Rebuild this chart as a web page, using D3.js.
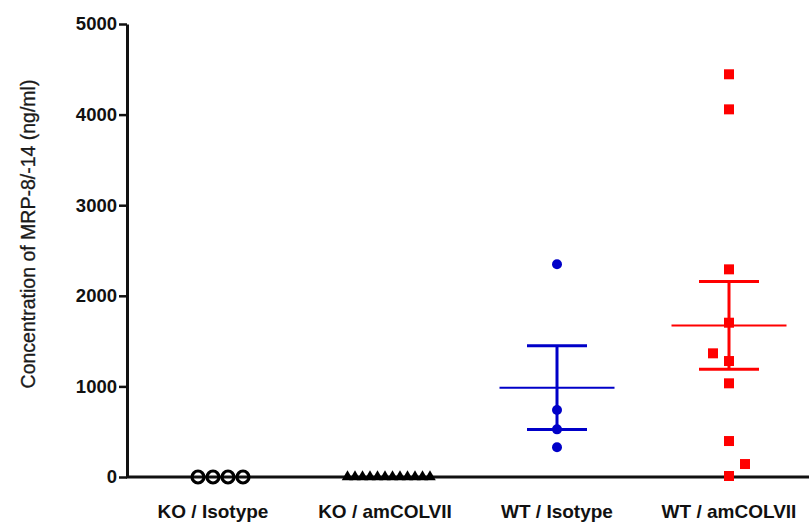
<!DOCTYPE html>
<html>
<head>
<meta charset="utf-8">
<script src="https://cdn.jsdelivr.net/npm/d3@7"></script>
<style>
  body { margin: 0; background: #fff; }
  text { font-family: Arial, "Liberation Sans", sans-serif; }
</style>
</head>
<body>
<div id="chart"></div>
<script>
const categories = ['KO / Isotype', 'KO / amCOLVII', 'WT / Isotype', 'WT / amCOLVII'];
const koIsotype = [0, 0, 0, 0];
const koAmcol = [0, 0, 0, 0, 0, 0, 0, 0, 0, 0, 0, 0];
const wtIsotype = [2348, 740, 526, 328];
const wtAmcol = [4445, 4058, 2292, 1703, 1365, 1280, 1034, 397, 143, 11];
const yTicks = [0, 1000, 2000, 3000, 4000, 5000];
const yLabel = 'Concentration of MRP-8/-14 (ng/ml)';

const width = 809, height = 524;

const series = [
  { values: koIsotype, shape: 'open', color: '#000', step: 15, errs: false },
  { values: koAmcol, shape: 'triangle', color: '#000', step: 7.5, errs: false },
  { values: wtIsotype, shape: 'circle', color: '#0000c8', step: 15, errs: true },
  { values: wtAmcol, shape: 'square', color: '#ff0000', step: 16, errs: true },
];

const svg = d3.select('#chart').append('svg')
  .attr('width', width)
  .attr('height', height);

const x = d3.scaleBand()
  .domain(categories)
  .range([127, 815]);

const y = d3.scaleLinear()
  .domain([0, 5000])
  .range([477, 24]);

// y axis
const yAxis = svg.append('g')
  .attr('transform', 'translate(127,0)')
  .call(d3.axisLeft(y)
    .tickValues(yTicks)
    .tickFormat(d3.format('d'))
    .tickSize(8).tickPadding(2).tickSizeOuter(0));
yAxis.select('.domain').attr('stroke-width', 3).attr('stroke', '#111');
yAxis.selectAll('.tick line').attr('stroke-width', 2.5).attr('stroke', '#111');
yAxis.selectAll('.tick text')
  .attr('font-size', 18.5)
  .attr('font-weight', 'bold')
  .attr('fill', '#111')
  .attr('font-family', 'Arial, "Liberation Sans", sans-serif');

// x axis line
svg.append('line')
  .attr('x1', 126).attr('x2', width)
  .attr('y1', y(0)).attr('y2', y(0))
  .attr('stroke', '#111')
  .attr('stroke-width', 3);

svg.append('g')
  .selectAll('text')
  .data(categories)
  .join('text')
  .attr('x', (d) => x(d) + x.bandwidth() / 2)
  .attr('y', 518)
  .attr('text-anchor', 'middle')
  .attr('font-size', 19)
  .attr('font-weight', 'bold')
  .attr('fill', '#111')
  .text((d) => d);

svg.append('text')
  .attr('transform', 'translate(35,234) rotate(-90)')
  .attr('text-anchor', 'middle')
  .attr('font-size', 19.5)
  .attr('fill', '#1a1a1a')
  .attr('stroke', '#1a1a1a')
  .attr('stroke-width', 0.3)
  .text(yLabel);

// simple beeswarm: ascending values, collisions alternate right/left
function swarm(values, step) {
  const placed = [];
  let flip = 0;
  const sorted = values.slice().sort((a, b) => a - b);
  sorted.forEach((v) => {
    const py = y(v);
    const hits = (dx) => placed.some((p) => Math.hypot(p.dx - dx, p.y - py) < step * 0.9);
    let dx = 0;
    if (hits(0)) {
      const side = flip % 2 === 0 ? 1 : -1;
      flip += 1;
      for (let k = 1; k < 50; k++) {
        if (!hits(side * k * step)) { dx = side * k * step; break; }
        if (!hits(-side * k * step)) { dx = -side * k * step; break; }
      }
    }
    placed.push({ v, y: py, dx });
  });
  return placed;
}

series.forEach((s, i) => {
  const cx = x(categories[i]) + x.bandwidth() / 2;
  const g = svg.append('g');

  if (s.errs) {
    const mean = d3.mean(s.values);
    const sem = d3.deviation(s.values) / Math.sqrt(s.values.length);
    g.append('line')
      .attr('x1', cx).attr('x2', cx)
      .attr('y1', y(mean + sem)).attr('y2', y(mean - sem))
      .attr('stroke', s.color).attr('stroke-width', 3);
    [mean + sem, mean - sem].forEach((v) => {
      g.append('line')
        .attr('x1', cx - 30).attr('x2', cx + 30)
        .attr('y1', y(v)).attr('y2', y(v))
        .attr('stroke', s.color).attr('stroke-width', 3);
    });
    g.append('line')
      .attr('x1', cx - 57.5).attr('x2', cx + 57.5)
      .attr('y1', y(mean)).attr('y2', y(mean))
      .attr('stroke', s.color).attr('stroke-width', 2);
  }

  const pts = swarm(s.values, s.step);
  const marks = g.selectAll('.pt')
    .data(pts)
    .join('path')
    .attr('class', 'pt')
    .attr('transform', (d) => `translate(${cx + d.dx},${d.y})`);

  if (s.shape === 'open') {
    marks.attr('d', d3.symbol(d3.symbolCircle, Math.PI * 6 * 6)())
      .attr('fill', 'none')
      .attr('stroke', s.color)
      .attr('stroke-width', 3.2);
  } else if (s.shape === 'triangle') {
    marks.attr('d', d3.symbol(d3.symbolTriangle, 58)())
      .attr('fill', s.color);
  } else if (s.shape === 'circle') {
    marks.attr('d', d3.symbol(d3.symbolCircle, Math.PI * 5 * 5)())
      .attr('fill', s.color);
  } else {
    marks.attr('d', d3.symbol(d3.symbolSquare, 100)())
      .attr('fill', s.color);
  }
});
</script>
</body>
</html>
